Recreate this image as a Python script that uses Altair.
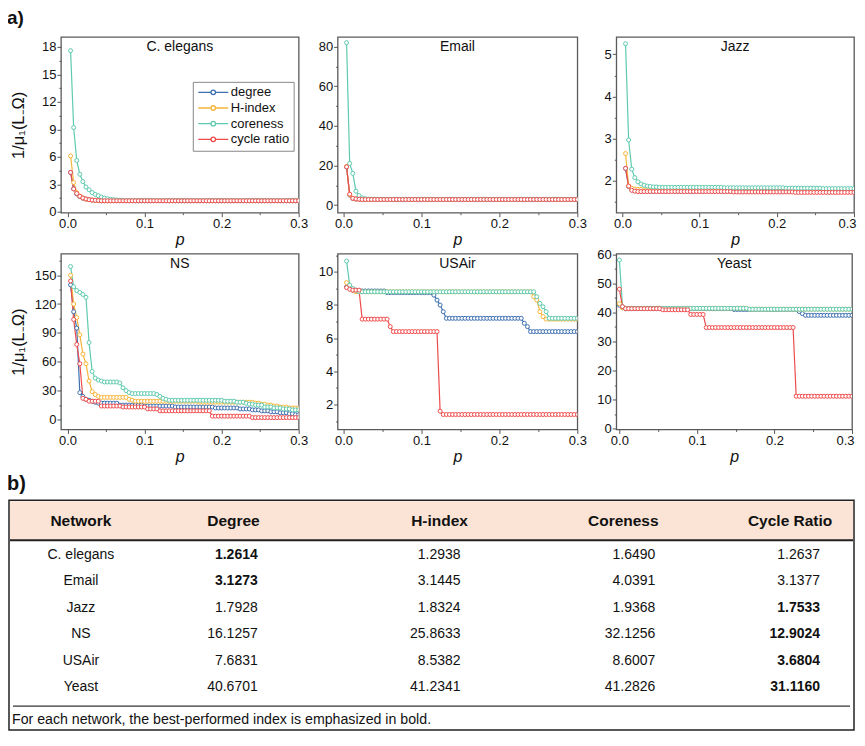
import altair as alt
import pandas as pd

FONT = "Liberation Sans"
SERIES = ["degree", "H-index", "coreness", "cycle ratio"]
COLORS = ["#3d6fb0", "#f6b53a", "#5fcaae", "#ee4b4b"]
Y_TITLE = "1/μ₁(L₋Ω)"

# sampled removal fractions p
P = [0.000, 0.004, 0.008, 0.012, 0.016, 0.020, 0.024, 0.028, 0.032, 0.036,
     0.040, 0.044, 0.048, 0.052, 0.056, 0.060, 0.064, 0.068, 0.072, 0.076,
     0.080, 0.084, 0.088, 0.092, 0.096, 0.100, 0.104, 0.108, 0.112, 0.116,
     0.120, 0.124, 0.128, 0.132, 0.136, 0.140, 0.144, 0.148, 0.152, 0.156,
     0.160, 0.164, 0.168, 0.172, 0.176, 0.180, 0.184, 0.188, 0.192, 0.196,
     0.200, 0.204, 0.208, 0.212, 0.216, 0.220, 0.224, 0.228, 0.232, 0.236,
     0.240, 0.244, 0.248, 0.252, 0.256, 0.260, 0.264, 0.268, 0.272, 0.276,
     0.280, 0.284, 0.288, 0.292, 0.296, 0.300]
X_TICKS = [0.0, 0.05, 0.1, 0.15, 0.2, 0.25, 0.3]

# values; (value, n) = plateau of n samples
CE_DEGREE = [4.3, 2.5, 1.95, 1.65, 1.48, 1.38, 1.32, 1.27, 1.24, 1.22, (1.2, 65)]
CE_HINDEX = [6.1, 3.2, 2.1, 1.7, 1.5, 1.38, 1.32, 1.28, 1.25, 1.23, (1.21, 65)]
CE_CORENESS = [17.6, 9.2, 5.6, 4.1, 3.3, 2.7, 2.4, 2.1, 1.9, 1.75, 1.6, 1.5, 1.42,
               1.36, 1.32, 1.29, 1.27, 1.25, (1.22, 57)]
CE_CYCLE = [4.3, 2.5, 2.0, 1.7, 1.5, 1.4, 1.32, 1.28, 1.25, 1.23, (1.2, 65)]

EM_DEGREE = [19.2, 5.0, 3.3, 3.0, 2.9, (2.8, 70)]
EM_HINDEX = [19.5, 5.2, 3.4, 3.1, 2.95, (2.85, 70)]
EM_CORENESS = [82, 21, 16, 7.0, 4.8, 3.6, 3.2, 3.0, (2.9, 67)]
EM_CYCLE = [19.3, 5.5, 3.4, 3.1, 2.95, (2.8, 70)]

JZ_DEGREE = [2.3, 1.87, 1.79, 1.77, 1.76, (1.76, 30), (1.755, 40)]
JZ_HINDEX = [2.65, 1.88, 1.83, 1.81, 1.80, 1.80, (1.79, 30), (1.78, 39)]
JZ_CORENESS = [5.25, 2.97, 2.28, 2.08, 1.98, 1.93, 1.90, 1.88, 1.87, 1.86, 1.86, 1.85,
               (1.85, 20), (1.84, 20), (1.83, 12), (1.82, 11)]
JZ_CYCLE = [2.3, 1.88, 1.78, 1.76, 1.75, (1.75, 30), (1.74, 20), (1.73, 20)]

NS_DEGREE = [140, 112, 95, 28, 24, 21, 20, 19, 18, (17, 7), (15, 8), (14, 10), (13, 13),
             (12, 8), (11, 4), (10, 3), (9, 3), (8, 3), (7, 3), (6, 2), (5, 2)]
NS_HINDEX = [150, 120, 106, 88, 68, 58, 40, 29, 26, 24, (23, 9), 21, 20, (19, 21), (18, 18),
             (17, 2), (16, 2), (15, 2), (14, 2), (13, 3), (12, 4)]
NS_CORENESS = [159, 138, 134, 132, 130, 127, 80, 50, 43, 41, 40, (39, 5), 38, 33, 30, 28,
               (27, 8), 26, 24, 22, 21, (20, 18), (19, 4), (18, 3), 17, (16, 2), (15, 3),
               (13, 3), (12, 3), (11, 3), (10, 3)]
NS_CYCLE = [144, 104, 78, 58, 22, 21, (19, 4), (14, 7), (13, 8), (11, 4), (9, 17),
            (3.5, 13), (2, 16)]

UA_DEGREE = [9.1, 9.0, 8.9, (8.85, 10), (8.75, 15), 8.6, 8.3, 8.0, 7.6, (7.2, 25), 6.9, 6.7,
             (6.4, 16)]
UA_HINDEX = [9.35, 9.0, 8.9, (8.8, 57), 8.5, 8.3, 7.6, 7.3, (7.15, 11)]
UA_CORENESS = [10.65, 9.2, 9.0, 8.9, (8.8, 57), 8.5, 8.1, 7.9, 7.6, (7.2, 10)]
UA_CYCLE = [9.05, 8.95, (8.9, 3), (7.15, 9), 6.7, (6.4, 15), 1.6, (1.4, 44)]

YE_DEGREE = [42.5, 41.6, (41.3, 35), (41.0, 21), 40.3, 39.6, (39.0, 16)]
YE_HINDEX = [43, 41.6, (41.4, 40), (41.1, 34)]
YE_CORENESS = [58, 42, (41.4, 40), (41.1, 34)]
YE_CYCLE = [48, 42, (41.3, 12), (40.9, 9), (39.3, 5), (34.8, 29), (11.2, 19)]

# table b)
TBL_COLS = ["Network", "Degree", "H-index", "Coreness", "Cycle Ratio"]
TBL_NETS = ["C. elegans", "Email", "Jazz", "NS", "USAir", "Yeast"]
TBL_DEGREE = [1.2614, 3.1273, 1.7928, 16.1257, 7.6831, 40.6701]
TBL_HINDEX = [1.2938, 3.1445, 1.8324, 25.8633, 8.5382, 41.2341]
TBL_CORENESS = [1.6490, 4.0391, 1.9368, 32.1256, 8.6007, 41.2826]
TBL_CYCLE = [1.2637, 3.1377, 1.7533, 12.9024, 3.6804, 31.1160]
FOOTNOTE = "For each network, the best-performed index is emphasized in bold."

# ---- layout / style (pixels) ----
PANEL_H = 176
# table cell: origin aligned with the left plot; the box is drawn from BX,BY
BX, BY, BW, BH = -52, 30, 846, 230
HEAD_X = [BX + 72, BX + 224.7, BX + 431, BX + 615, BX + 782]
VAL_X = [BX + 249, BX + 452, BX + 647, BX + 812]
ROW_Y = [BY + 54.7, BY + 187]
HEAD_LINE, FOOT_LINE, FOOT_Y = 40, 206, 220

LEG_PATH = ("M-1,0L1.55,0M2.45,0L5,0M2.45,0A0.45,0.45,0,1,1,1.55,0"
            "A0.45,0.45,0,1,1,2.45,0Z")


def expand(parts):
    out = []
    for item in parts:
        if isinstance(item, tuple):
            out += [item[0]] * item[1]
        else:
            out.append(item)
    return out


def major(step):
    return f"abs(datum.value / {step} - round(datum.value / {step})) < 0.001"


ONE = alt.Data(values=[{}])


def panel(name, pvals, series, ydomain, yticks, ystep, xdomain, width,
          ytitle=False, legend=False, tag=False, flush=False):
    recs = []
    for sname, parts in zip(SERIES, series):
        for p, v in zip(pvals, expand(parts)):
            recs.append({"p": p, "v": v, "s": sname})
    df = pd.DataFrame(recs)
    xt = major(0.1)
    xax = dict(values=X_TICKS, format=".1f", labelExpr=f"{xt} ? datum.label : ''",
               tickSize={"condition": {"test": xt, "value": 4}, "value": 2}, title="p")
    if flush:
        xax.update(labelFlush=True, labelFlushOffset=2)
    x = alt.X("p:Q", scale=alt.Scale(domain=xdomain, nice=False, zero=False),
              axis=alt.Axis(**xax))
    yt = major(ystep)
    yax = dict(values=yticks, format=".0f", labelExpr=f"{yt} ? datum.label : ''",
               tickSize={"condition": {"test": yt, "value": 4}, "value": 2})
    if ytitle:
        yax.update(title=Y_TITLE, titleX=-42.5, titleY=PANEL_H / 2,
                   titleBaseline="middle")
    else:
        yax.update(title=None)
    y = alt.Y("v:Q", scale=alt.Scale(domain=ydomain, nice=False, zero=False),
              axis=alt.Axis(**yax))
    if legend:
        leg = alt.Legend(title=None, orient="none", legendX=132, legendY=45,
                         symbolType=LEG_PATH, symbolSize=100, symbolStrokeWidth=1.3,
                         symbolFillColor="white", labelOffset=21, labelFont=FONT,
                         labelFontSize=13, labelColor="#111", padding=4, rowPadding=1.7,
                         strokeColor="#888", fillColor="white", labelLimit=200)
    else:
        leg = None
    color = alt.Color("s:N", scale=alt.Scale(domain=SERIES, range=COLORS), legend=leg)
    base = alt.Chart(df)
    lines = base.mark_line(strokeWidth=1.2, clip=True).encode(x=x, y=y, color=color)
    pts = base.mark_point(filled=False, fill="white", size=16, strokeWidth=1,
                          opacity=1, clip=True).encode(x=x, y=y, color=color)
    ttl = alt.Chart(ONE).mark_text(fontSize=14, color="#111", align="center",
                                   baseline="middle").encode(
        x=alt.value(width / 2), y=alt.value(10), text=alt.value(name))
    layers = [lines, pts, ttl]
    if tag:
        layers.append(alt.Chart(ONE).mark_text(fontSize=19, fontWeight="bold", color="#111",
                                               align="left", baseline="top").encode(
            x=alt.value(-54), y=alt.value(-28), text=alt.value("a)")))
    return alt.layer(*layers).properties(width=width, height=PANEL_H)


ce = panel("C. elegans", P[1:], [CE_DEGREE, CE_HINDEX, CE_CORENESS, CE_CYCLE],
           [-0.1, 19.1], [0, 1.5, 3, 4.5, 6, 7.5, 9, 10.5, 12, 13.5, 15, 16.5, 18], 3,
           [-0.0085, 0.3], 238, ytitle=True, legend=True, tag=True)
em = panel("Email", P[1:], [EM_DEGREE, EM_HINDEX, EM_CORENESS, EM_CYCLE],
           [-3.85, 84.9], [0, 10, 20, 30, 40, 50, 60, 70, 80], 20,
           [-0.0075, 0.3], 240)
jz = panel("Jazz", P[1:], [JZ_DEGREE, JZ_HINDEX, JZ_CORENESS, JZ_CYCLE],
           [1.25, 5.41], [1.5, 2, 2.5, 3, 3.5, 4, 4.5, 5], 1,
           [-0.008, 0.3], 238, flush=True)
ns = panel("NS", P[1:], [NS_DEGREE, NS_HINDEX, NS_CORENESS, NS_CYCLE],
           [-10.3, 172.4], [0, 15, 30, 45, 60, 75, 90, 105, 120, 135, 150, 165], 30,
           [-0.0085, 0.3], 238, ytitle=True)
ua = panel("USAir", P[1:], [UA_DEGREE, UA_HINDEX, UA_CORENESS, UA_CYCLE],
           [0.5, 11.1], [1, 2, 3, 4, 5, 6, 7, 8, 9, 10, 11], 2,
           [-0.0075, 0.3], 240)
ye = panel("Yeast", P, [YE_DEGREE, YE_HINDEX, YE_CORENESS, YE_CYCLE],
           [-0.2, 60.2], [0, 5, 10, 15, 20, 25, 30, 35, 40, 45, 50, 55, 60], 10,
           [-0.004, 0.3], 236, flush=True)

# ---- table ----
hdr_df = pd.DataFrame({"ci": list(range(len(TBL_COLS))), "t": TBL_COLS})
name_df = pd.DataFrame({"ci": [0] * len(TBL_NETS), "ri": list(range(len(TBL_NETS))),
                        "t": TBL_NETS})
cells = []
for ri, vals in enumerate(zip(TBL_DEGREE, TBL_HINDEX, TBL_CORENESS, TBL_CYCLE)):
    best = min(vals)
    for ci, v in enumerate(vals, start=1):
        cells.append({"ri": ri, "ci": ci, "t": f"{v:.4f}", "b": bool(v == best)})
cell_df = pd.DataFrame(cells)

hx = alt.X("ci:Q", scale=alt.Scale(domain=[0, 1, 2, 3, 4], range=HEAD_X), axis=None)
vx = alt.X("ci:Q", scale=alt.Scale(domain=[1, 2, 3, 4], range=VAL_X), axis=None)
ry = alt.Y("ri:Q", scale=alt.Scale(domain=[0, 5], range=ROW_Y), axis=None)

bg = alt.Chart(ONE).mark_rect(fill="#fbe4d5").encode(
    x=alt.value(BX + 1), x2=alt.value(BX + BW - 1), y=alt.value(BY + 1),
    y2=alt.value(BY + HEAD_LINE))
hline = alt.Chart(ONE).mark_rule(color="#222", strokeWidth=2).encode(
    x=alt.value(BX + 1), x2=alt.value(BX + BW - 1), y=alt.value(BY + HEAD_LINE))
bline = alt.Chart(ONE).mark_rule(color="#333", strokeWidth=1.3).encode(
    x=alt.value(BX + 4), x2=alt.value(BX + BW - 4), y=alt.value(BY + FOOT_LINE))
box = alt.Chart(ONE).mark_rect(fillOpacity=0, stroke="#222", strokeWidth=1.5).encode(
    x=alt.value(BX), x2=alt.value(BX + BW), y=alt.value(BY), y2=alt.value(BY + BH))
heads = alt.Chart(hdr_df).mark_text(fontSize=15.5, fontWeight="bold", color="#111",
                                    align="center", baseline="middle").encode(
    x=hx, y=alt.value(BY + 21), text="t:N")
names = alt.Chart(name_df).mark_text(fontSize=14, color="#111", align="center",
                                     baseline="middle").encode(x=hx, y=ry, text="t:N")
vals_n = alt.Chart(cell_df).transform_filter("!datum.b").mark_text(
    fontSize=14, color="#111", align="right", baseline="middle").encode(x=vx, y=ry, text="t:N")
vals_b = alt.Chart(cell_df).transform_filter("datum.b").mark_text(
    fontSize=14, fontWeight="bold", color="#111", align="right", baseline="middle").encode(
    x=vx, y=ry, text="t:N")
foot = alt.Chart(ONE).mark_text(fontSize=14.2, color="#111", align="left",
                                baseline="middle").encode(
    x=alt.value(BX + 3), y=alt.value(BY + FOOT_Y), text=alt.value(FOOTNOTE))
btag = alt.Chart(ONE).mark_text(fontSize=20, fontWeight="bold", color="#111", align="left",
                                baseline="top").encode(
    x=alt.value(BX - 2), y=alt.value(BY - 26), text=alt.value("b)"))

# the table cell is given a small nominal width so it does not widen the first column;
# its marks are placed in pixels beyond that width
table = alt.layer(bg, hline, bline, heads, names, vals_n, vals_b, foot, btag, box).resolve_scale(
    x="independent", y="independent").properties(
    width=200, height=BY + BH,
    view=alt.ViewBackground(stroke="transparent", fill="transparent"))

chart = alt.concat(ce, em, jz, ns, ua, ye, table, columns=3, align="each", bounds="flush",
                   spacing={"row": 41, "column": 39}).resolve_scale(
    color="independent").properties(
    padding={"top": -0.5, "left": -2, "right": 0, "bottom": 0},
    background="white").configure(
    font=FONT).configure_view(stroke="#5a5a5a", strokeWidth=1.3).configure_axis(
    domain=False, grid=False, labelFont=FONT, labelFontSize=13, labelColor="#111",
    tickColor="#555", tickWidth=1, labelPadding=1, titleFont=FONT, titleFontSize=16,
    titleFontWeight="normal", titleColor="#111", labelFlush=False, labelOverlap=False,
    titlePadding=1).configure_axisX(titleFontStyle="italic").configure_axisY(
    titleFontStyle="normal", titleFontSize=16.5)

chart.save("out.html", embed_options={"renderer": "svg", "actions": False})
